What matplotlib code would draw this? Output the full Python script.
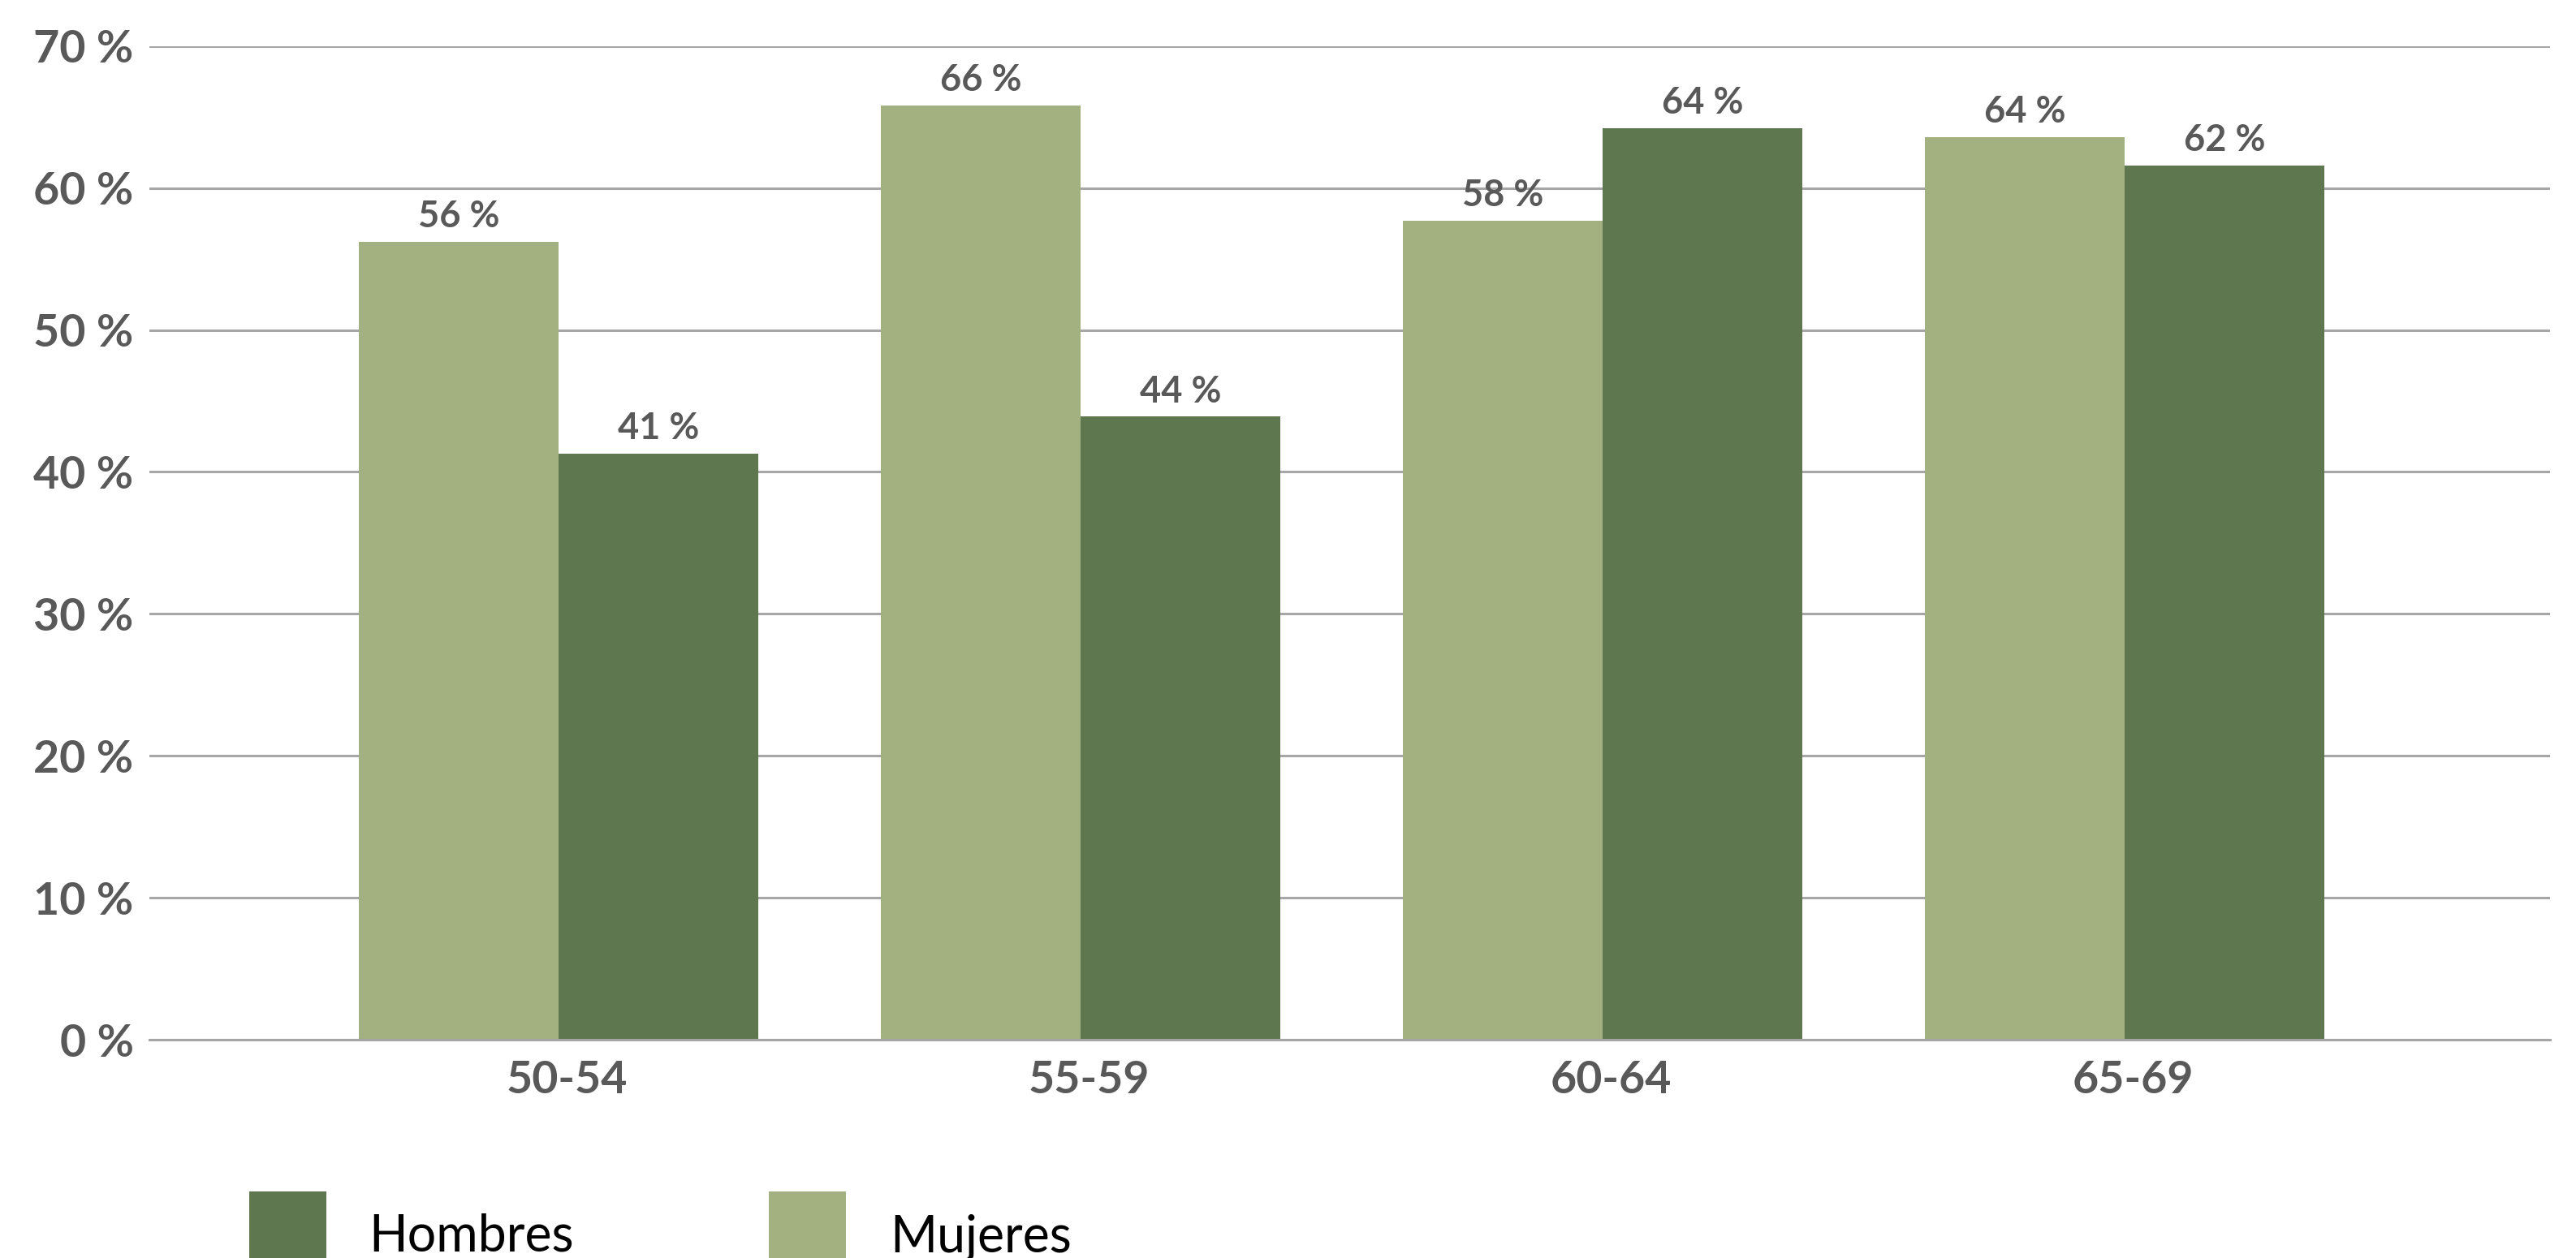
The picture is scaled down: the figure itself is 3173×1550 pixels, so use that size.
import matplotlib
matplotlib.use("Agg")
import matplotlib.pyplot as plt
import matplotlib.transforms as mtransforms
from matplotlib.patches import Rectangle
import numpy as np

# datos
grupos = ["50-54", "55-59", "60-64", "65-69"]
mujeres = [56.2, 65.8, 57.7, 63.6]
hombres = [41.3, 43.9, 64.2, 61.6]
yticks = [0, 10, 20, 30, 40, 50, 60, 70]
series_leyenda = ["Hombres", "Mujeres"]

c_muj = "#A2B17F"
c_hom = "#5E774F"
gris = "#595959"
gris_linea = "#A6A6A6"

plt.rcParams['font.family'] = ['Lato', 'DejaVu Sans']

W, H = 3173, 1550
fig = plt.figure(figsize=(W / 100, H / 100), dpi=100)
ax = fig.add_axes([0.058, 0.1735, 0.932, 0.7899])

x = np.arange(len(grupos))
w = 0.383
b1 = ax.bar(x - w / 2, mujeres, w, color=c_muj, zorder=3)
b2 = ax.bar(x + w / 2, hombres, w, color=c_hom, zorder=3)

# etiquetas encima de las barras
for bars in (b1, b2):
    ax.bar_label(bars, labels=[f"{v:.0f} %" for v in bars.datavalues],
                 padding=7, fontsize=32.5, fontweight='bold', color=gris)

ax.set_xlim(-0.784, 3.815)
ax.set_ylim(0, 70)
ax.set_yticks(yticks)
ax.set_yticklabels([f"{t} %" for t in yticks])
ax.set_xticks(x)
ax.set_xticklabels(grupos)
ax.tick_params(axis='y', length=0, pad=14, labelsize=40, labelcolor=gris)
ax.tick_params(axis='x', length=0, pad=18, labelsize=40, labelcolor=gris)
desplaza = mtransforms.ScaledTranslation(10 / 100, 0, fig.dpi_scale_trans)
for lab in ax.get_xticklabels():
    lab.set_fontweight('bold')
    lab.set_transform(lab.get_transform() + desplaza)
for lab in ax.get_yticklabels():
    lab.set_fontweight('bold')

ax.grid(axis='y', color=gris_linea, linewidth=2.2, zorder=0)
for s in ['left', 'right', 'top']:
    ax.spines[s].set_visible(False)
ax.spines['bottom'].set_color(gris_linea)
ax.spines['bottom'].set_linewidth(2.2)
ax.spines['bottom'].set_zorder(4)

# leyenda abajo, cortada por el borde como en el original (en pixeles)
cuadros_x = [307, 947]
textos_x = [454, 1096]
colores_ley = [c_hom, c_muj]
for cx, tx, col, nombre in zip(cuadros_x, textos_x, colores_ley, series_leyenda):
    fig.add_artist(Rectangle((cx / W, -0.01), 95 / W, 0.01 + (1 - 1468 / H),
                             transform=fig.transFigure, color=col, lw=0))
    fig.text(tx / W, 1 - 1542 / H, nombre, fontsize=45, color="black",
             va='baseline', ha='left')

fig.savefig("out.png", dpi=100)
